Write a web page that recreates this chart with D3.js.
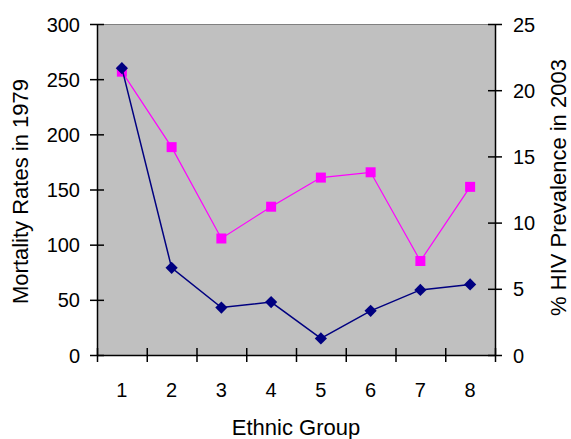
<!DOCTYPE html>
<html>
<head>
<meta charset="utf-8">
<script src="https://cdn.jsdelivr.net/npm/d3@7"></script>
<style>
  body { margin: 0; background: #fff; }
  text { font-family: "Liberation Sans", Arial, sans-serif; fill: #000; }
</style>
</head>
<body>
<script>
// data
var groups = ["1", "2", "3", "4", "5", "6", "7", "8"];
var mortality1979 = [260, 79, 43, 48, 15, 40, 59, 64];
var hiv2003 = [21.4, 15.7, 8.8, 11.2, 13.4, 13.8, 7.1, 12.7];
var leftTicks = [0, 50, 100, 150, 200, 250, 300];
var rightTicks = [0, 5, 10, 15, 20, 25];

var margin = {top: 24, right: 76, bottom: 84, left: 97},
    width = 571 - margin.left - margin.right,
    height = 439 - margin.top - margin.bottom;

var svg = d3.select("body").append("svg")
    .attr("width", 571)
    .attr("height", 439)
  .append("g")
    .attr("transform", "translate(" + margin.left + "," + margin.top + ")");

var x = d3.scaleBand().domain(groups).range([0, width]);
var yL = d3.scaleLinear().domain([0, 300]).range([height, 0]);
var yR = d3.scaleLinear().domain([0, 25]).range([height, 0]);

// plot area
svg.append("rect")
    .attr("width", width)
    .attr("height", height)
    .attr("fill", "#c0c0c0");
svg.append("line")
    .attr("x1", 0).attr("x2", width)
    .attr("y1", 0.5).attr("y2", 0.5)
    .attr("stroke", "#808080");

// axes with ticks crossing the line
function styleAxis(g) {
  g.select(".domain").attr("stroke", "#000").attr("stroke-width", 1.5);
  g.selectAll(".tick line").attr("stroke", "#000").attr("stroke-width", 1.5);
  g.selectAll(".tick text")
    .style("font-family", "Liberation Sans, Arial, sans-serif")
    .style("font-size", "20px")
    .attr("fill", "#222");
}

var gl = svg.append("g")
    .call(d3.axisLeft(yL).tickValues(leftTicks).tickSize(7).tickSizeOuter(0));
styleAxis(gl);
gl.selectAll(".tick line").attr("x2", 7).attr("x1", -7);
gl.selectAll(".tick text").attr("x", -17).attr("dy", "0.35em");

var gr = svg.append("g")
    .attr("transform", "translate(" + width + ",0)")
    .call(d3.axisRight(yR).tickValues(rightTicks).tickSize(7).tickSizeOuter(0));
styleAxis(gr);
gr.selectAll(".tick line").attr("x1", -7).attr("x2", 7);
gr.selectAll(".tick text").attr("x", 18).attr("dy", "0.35em");

// x axis: ticks at band boundaries, labels at centers
var xb = d3.scaleLinear().domain([0, groups.length]).range([0, width]);
var gx = svg.append("g")
    .attr("transform", "translate(0," + height + ")")
    .call(d3.axisBottom(xb).ticks(groups.length).tickSize(7).tickSizeOuter(0).tickFormat(""));
styleAxis(gx);
gx.selectAll(".tick line").attr("y1", -7).attr("y2", 7);

svg.append("g")
  .selectAll("text")
  .data(groups)
  .join("text")
    .attr("x", function(d) { return x(d) + x.bandwidth() / 2; })
    .attr("y", height + 42)
    .attr("text-anchor", "middle")
    .attr("fill", "#222")
    .style("font-size", "20px")
    .text(function(d) { return d; });

// pink line (right axis)
var hivLine = d3.line()
    .x(function(d, i) { return x(groups[i]) + x.bandwidth() / 2; })
    .y(function(d) { return yR(d); });
svg.append("path")
    .datum(hiv2003)
    .attr("fill", "none")
    .attr("stroke", "#ff00ff")
    .attr("stroke-width", 1.2)
    .attr("d", hivLine);
svg.append("g")
  .selectAll("rect")
  .data(hiv2003)
  .join("rect")
    .attr("x", function(d, i) { return x(groups[i]) + x.bandwidth() / 2 - 5; })
    .attr("y", function(d) { return yR(d) - 5; })
    .attr("width", 10)
    .attr("height", 10)
    .attr("fill", "#ff00ff");

// blue line (left axis)
var mortLine = d3.line()
    .x(function(d, i) { return x(groups[i]) + x.bandwidth() / 2; })
    .y(function(d) { return yL(d); });
svg.append("path")
    .datum(mortality1979)
    .attr("fill", "none")
    .attr("stroke", "#000080")
    .attr("stroke-width", 1.5)
    .attr("d", mortLine);
svg.append("g")
  .selectAll("path")
  .data(mortality1979)
  .join("path")
    .attr("transform", function(d, i) {
      return "translate(" + (x(groups[i]) + x.bandwidth() / 2) + "," + yL(d) + ")";
    })
    .attr("d", d3.symbol().type(d3.symbolDiamond2).size(95))
    .attr("fill", "#000080");

// axis titles
svg.append("text")
    .attr("transform", "translate(" + (-77) + "," + (height / 2 + 2) + ") rotate(-90)")
    .attr("text-anchor", "middle")
    .attr("dy", "0.35em")
    .attr("fill", "#222")
    .style("font-size", "22px")
    .text("Mortality Rates in 1979");

svg.append("text")
    .attr("transform", "translate(" + (width + 63) + "," + (height / 2 - 2) + ") rotate(-90)")
    .attr("text-anchor", "middle")
    .attr("dy", "0.35em")
    .attr("fill", "#222")
    .style("font-size", "22px")
    .text("% HIV Prevalence in 2003");

svg.append("text")
    .attr("x", width / 2)
    .attr("y", height + 80)
    .attr("text-anchor", "middle")
    .attr("fill", "#222")
    .style("font-size", "22px")
    .text("Ethnic Group");
</script>
</body>
</html>
